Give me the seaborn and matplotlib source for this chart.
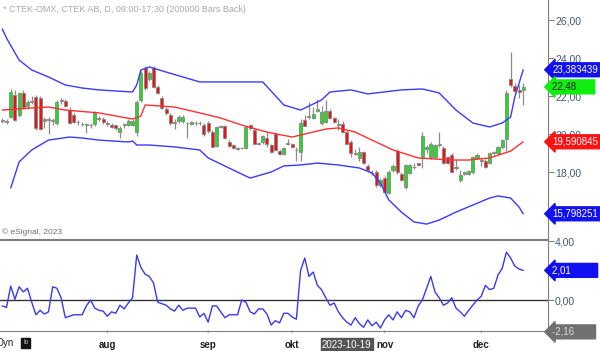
import numpy as np
import pandas as pd
import matplotlib
matplotlib.use("Agg")
import matplotlib.pyplot as plt
import seaborn as sns

# ---------------- data ----------------
opens = [20.75,20.7,20.9,22.05,21.0,22.15,21.5,21.75,21.95,21.9,
         20.7,20.75,20.75,20.6,21.75,21.72,21.25,21.0,20.65,20.55,
         20.52,20.5,20.55,20.85,20.8,20.6,20.5,20.45,20.1,20.5,
         20.5,20.5,20.1,21.8,23.5,22.9,23.5,22.5,21.9,21.3,
         21.0,20.6,20.7,20.7,20.6,20.55,20.6,20.6,20.5,20.6,
         20.1,19.35,20.4,20.4,19.6,19.4,19.22,19.25,19.25,20.45,
         20.2,19.5,19.6,19.8,19.4,20.0,19.1,18.95,19.55,19.45,
         19.15,19.05,20.75,20.9,20.85,21.2,20.6,20.65,21.2,20.85,
         20.55,20.55,20.1,19.6,19.0,18.74,19.05,18.3,17.95,18.0,
         17.3,17.7,16.9,18.1,19.1,17.9,17.2,17.95,18.25,18.45,
         18.8,19.2,18.8,18.8,19.4,19.25,18.8,18.9,18.2,17.6,
         17.9,17.9,18.0,18.75,18.65,18.6,18.45,19.0,19.0,19.3,
         19.75,22.9,22.55,22.3,22.3]
highs = [20.85,20.8,22.35,22.3,22.2,22.3,21.8,22.0,22.05,22.0,
         20.9,20.9,20.85,21.8,21.9,21.85,21.4,21.1,20.75,20.65,
         20.6,20.6,21.2,20.95,20.9,20.7,20.6,20.5,20.4,20.6,
         20.8,20.8,21.8,23.3,23.6,23.3,23.6,22.6,22.0,21.4,
         21.1,20.8,21.0,21.0,20.65,20.7,20.7,20.7,20.6,20.7,
         20.2,20.4,20.5,20.5,19.7,19.45,19.3,19.3,20.4,20.55,
         20.3,19.6,19.95,20.1,19.5,20.1,19.2,19.3,19.75,19.55,
         19.3,20.8,21.0,21.7,21.4,21.85,21.5,21.8,21.3,20.9,
         20.8,20.7,20.2,19.7,19.2,19.3,19.1,18.4,18.1,18.1,
         17.7,17.8,18.1,18.4,19.2,18.0,18.4,18.4,18.5,18.5,
         20.1,19.4,19.6,19.5,20.1,19.35,18.85,19.0,18.7,18.1,
         18.0,18.1,18.85,19.0,18.8,18.7,19.05,19.1,19.35,19.75,
         22.3,24.3,22.7,22.6,22.7]
lows = [20.6,20.55,20.85,20.7,20.9,21.3,21.3,21.6,20.2,20.2,
        20.3,20.0,20.5,20.5,21.6,21.4,20.55,20.6,20.5,20.4,
        20.05,20.3,20.4,20.7,20.55,20.4,20.3,20.2,19.8,20.3,
        20.4,20.4,19.9,21.7,22.3,22.8,22.4,22.1,21.3,21.0,
        20.5,20.25,20.6,20.6,19.8,20.45,20.5,20.5,19.9,20.05,
        19.3,19.3,20.3,19.75,19.3,19.2,19.15,19.2,19.2,20.2,
        19.45,19.4,19.5,19.3,19.0,19.1,18.9,18.9,19.4,19.25,
        18.6,18.6,20.4,20.8,20.8,21.15,20.5,20.6,20.8,20.6,
        20.2,20.05,19.5,18.8,18.9,18.6,18.4,18.0,17.85,17.2,
        17.2,16.9,16.85,18.0,17.9,17.55,17.1,17.9,18.15,18.3,
        18.2,19.0,18.7,18.7,19.3,18.4,18.4,17.95,18.1,17.5,
        17.85,17.85,17.9,18.7,18.3,18.2,18.4,18.9,18.9,19.2,
        19.1,22.5,22.2,21.9,21.55]
closes = [20.7,20.65,22.2,20.75,22.15,21.4,21.7,21.7,20.3,20.25,
          20.8,20.75,20.7,21.7,21.75,21.47,20.6,20.65,20.62,20.52,
          20.5,20.45,21.1,20.8,20.65,20.55,20.35,20.3,20.3,20.55,
          20.7,20.7,21.7,23.2,22.4,23.2,22.5,22.15,21.37,21.1,
          20.6,20.6,20.9,20.9,20.58,20.62,20.58,20.57,20.0,20.15,
          19.33,20.35,20.38,19.8,19.35,19.25,19.26,19.25,20.35,20.3,
          19.5,19.52,19.9,19.5,19.05,19.15,18.95,19.25,19.5,19.3,
          19.15,20.6,20.4,20.95,21.05,21.3,21.15,21.2,20.85,20.65,
          20.5,20.1,19.5,19.0,18.95,19.05,18.45,18.1,17.95,17.3,
          17.6,16.95,18.0,18.3,18.0,17.6,18.35,18.35,18.25,18.35,
          19.9,19.3,19.5,19.4,19.45,18.5,18.45,18.0,18.25,17.85,
          18.0,18.05,18.8,18.9,18.6,18.25,19.0,19.05,19.3,19.7,
          22.15,22.6,22.25,22.2,22.48]

upper_x = [0,1,4,7,11,15,19,23,31,32,33,35,39,47,55,62,67,71,76,78,83,87,95,100,104,108,112,116,119,121,122,124]
upper_v = [25.53,25.05,23.89,23.37,23.0,22.58,22.42,22.32,22.21,22.58,23.37,23.53,23.26,22.74,22.74,22.74,
           21.53,21.26,21.79,22.21,22.32,22.11,22.32,22.37,22.16,21.26,20.58,20.37,20.58,20.89,21.95,23.38]
mid_x = [0,7,11,15,23,31,33,34,41,47,52,57,63,69,73,77,80,84,88,93,99,107,111,116,121,124]
mid_v = [21.26,21.37,21.42,21.26,21.11,20.79,20.95,21.53,21.42,21.11,20.84,20.47,20.1,19.84,20.05,20.26,
         20.32,20.1,19.68,19.16,18.74,18.63,18.63,18.74,19.1,19.59]
lower_x = [2,4,7,11,16,19,23,30,31,32,35,41,47,49,55,59,64,67,71,75,80,85,88,90,92,95,98,101,104,108,112,116,118,121,123,124]
lower_v = [17.16,18.53,19.16,19.68,19.84,19.79,19.68,19.58,19.63,19.42,19.42,19.32,19.16,18.74,18.1,17.68,
           18.0,18.32,18.37,18.47,18.37,18.21,17.95,17.42,16.53,15.89,15.37,15.26,15.47,15.89,16.26,16.63,
           16.74,16.63,16.16,15.80]

osc = [-0.4,-0.5,0.95,0.05,0.9,0.55,0.8,-0.15,-1.0,-0.7,
       -0.95,-0.8,0.9,0.8,0.15,-1.2,-1.1,-1.0,-1.0,-1.0,
       -0.4,0.0,-0.55,-0.7,-0.75,-1.1,-0.8,-0.9,-0.35,-0.6,
       -0.2,0.15,3.05,2.2,1.75,1.6,1.15,-0.15,-0.25,-0.35,
       -0.6,-0.75,-0.35,-0.7,-0.55,-0.55,-0.55,-1.15,-0.9,-1.5,
       -0.4,-0.4,-0.8,-1.2,-1.0,-1.0,-1.0,0.0,-0.15,-0.8,
       -0.95,-0.6,-0.6,-0.95,-1.7,-1.4,-1.55,-0.9,-0.9,-1.15,
       -1.3,2.0,2.85,1.6,1.9,1.0,0.7,0.15,-0.35,-0.2,
       -0.8,-1.2,-1.5,-1.7,-1.2,-1.6,-1.85,-1.35,-1.75,-1.5,
       -1.9,-1.35,-1.0,-1.35,-0.8,-1.2,-0.7,-0.8,-1.2,-0.4,
       0.0,0.8,1.6,0.55,0.15,-0.35,-0.2,0.15,-0.55,-0.8,
       -1.1,-0.7,-0.35,0.0,0.25,1.0,0.7,0.8,1.7,2.15,
       3.25,2.85,2.3,2.1,2.01]

month_pos = [25, 49, 69, 91, 114]
month_labels = ["aug", "sep", "okt", "nov", "dec"]
price_ticks = [16, 18, 20, 22, 24, 26]
osc_ticks = [0, 4]

title_text = "* CTEK-OMX, CTEK AB, D, 09:00-17:30 (200000 Bars Back)"
copyright_text = "\u00a9 eSignal, 2023"

# ---------------- figure ----------------
sns.set_style("white")
plt.rcParams["font.family"] = ["Liberation Sans", "DejaVu Sans"]

W, H = 600, 351
fig = plt.figure(figsize=(W / 100, H / 100), dpi=100)

def frac(x0, y0, x1, y1):
    return [x0 / W, 1 - y1 / H, (x1 - x0) / W, (y1 - y0) / H]

ax = fig.add_axes(frac(0, 0, 548, 239))
ax2 = fig.add_axes(frac(0, 240, 548, 331))

n = len(closes)
idx = np.arange(n)
df = pd.DataFrame({"i": idx, "open": opens, "high": highs, "low": lows,
                   "close": closes, "osc": osc})

x_left, x_right = -0.55, 129.9
ax.set_xlim(x_left, x_right)
ax2.set_xlim(x_left, x_right)
ax.set_ylim(22 - 143 / 19, 22 + 96 / 19)
ax2.set_ylim(-2.1, 4.07)

gray = "#8c8c8c"
# wicks
ax.vlines(df["i"], df["low"], df["high"], color=gray, lw=0.9, zorder=2)
# bodies
up = df["close"] >= df["open"]
body_lo = np.minimum(df["open"], df["close"])
body_h = np.maximum(np.abs(df["close"] - df["open"]), 0.02)
cols = np.where(up, "#1fe01f", "#f01010")
ax.bar(df["i"], body_h, bottom=body_lo, width=0.72, color=cols,
       edgecolor=gray, linewidth=0.7, zorder=3)

# bands
blue = "#3a3aff"
sns.lineplot(x=upper_x, y=upper_v, ax=ax, color=blue, lw=1.0, zorder=4)
sns.lineplot(x=lower_x, y=lower_v, ax=ax, color=blue, lw=1.0, zorder=4)
sns.lineplot(x=mid_x, y=mid_v, ax=ax, color="#ff3030", lw=1.0, zorder=4)

# oscillator
ax2.axhline(0, color="#333333", lw=1.0, zorder=1)
sns.lineplot(data=df, x="i", y="osc", ax=ax2, color="#3a3aee", lw=1.0, zorder=3)

# axes styling
tick_col = "#4b5670"
for a in (ax, ax2):
    a.spines["left"].set_visible(False)
    a.spines["right"].set_color("#808080")
    a.spines["top"].set_color("#808080")
    a.spines["bottom"].set_color("#808080")
    a.set_xlabel("")
    a.set_ylabel("")
    a.set_xticks([])
    a.yaxis.tick_right()
    a.tick_params(axis="y", which="both", right=True, length=4, width=0.8,
                  color="#808080", labelsize=7.5, labelcolor=tick_col, pad=1)
ax.spines["top"].set_visible(False)
ax.set_yticks(price_ticks)
ax.set_yticklabels([f"{t:.2f}".replace(".", ",") for t in price_ticks])
ax2.set_yticks(osc_ticks)
ax2.set_yticklabels([f"{t:.2f}".replace(".", ",") for t in osc_ticks])

# value tags
def tag(a, y, txt, fc, tc):
    a.annotate(txt, xy=(1.0, y), xycoords=("axes fraction", "data"),
               xytext=(3.0, 0), textcoords="offset points", va="center", ha="left",
               fontsize=7.0, color=tc, annotation_clip=False, zorder=10,
               bbox=dict(boxstyle="larrow,pad=0.2", fc=fc, ec=fc))

tag(ax, upper_v[-1], "23,383439", "#1010f0", "white")
tag(ax, closes[-1], "22,48      ", "#10ee10", "#202020")
tag(ax, mid_v[-1], "19,590845", "#ff1010", "white")
tag(ax, lower_v[-1], "15,798251", "#1010f0", "white")
tag(ax2, osc[-1], "2,01         ", "#1010f0", "white")
tag(ax2, -2.16, "-2,16       ", "#707070", "#dddddd")

# texts
fig.text(3 / W, 1 - 9 / H, title_text, fontsize=6.5, color="#a8a8a8", va="center")
fig.text(2 / W, 1 - 232 / H, copyright_text, fontsize=6, color="#707070", va="center")

# date row
for p, lab in zip(month_pos, month_labels):
    ax2.annotate(lab, xy=(p, 0), xycoords=("data", "axes fraction"),
                 xytext=(0, -10), textcoords="offset points", ha="center", va="center",
                 fontsize=7, color="#202020", fontweight="bold", annotation_clip=False)
    ax2.annotate("", xy=(p, 0), xycoords=("data", "axes fraction"),
                 xytext=(0, -3), textcoords="offset points",
                 arrowprops=dict(arrowstyle="-", color="#808080", lw=0.8),
                 annotation_clip=False)

ax2.annotate("2023-10-19", xy=(82, 0), xycoords=("data", "axes fraction"),
             xytext=(0, -10), textcoords="offset points", ha="center", va="center",
             fontsize=7, color="white", annotation_clip=False,
             bbox=dict(boxstyle="square,pad=0.15", fc="#555555", ec="#555555"))
fig.text(-4 / W, 1 - 343 / H, "Dyn", fontsize=7, color="#202020", va="center")
fig.text(23 / W, 1 - 343 / H, "lo", fontsize=5, color="#bbbbbb", va="center",
         bbox=dict(boxstyle="square,pad=0.25", fc="#111111", ec="#111111"))

fig.savefig("out.png", dpi=100)
